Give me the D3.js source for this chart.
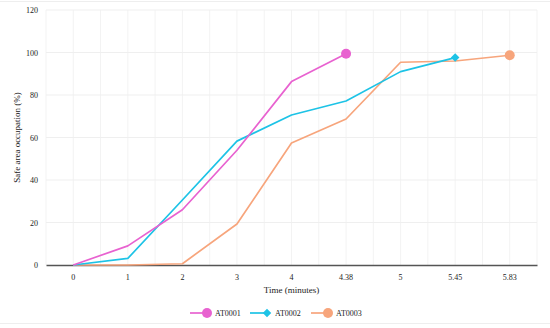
<!DOCTYPE html>
<html><head><meta charset="utf-8">
<script src="https://cdn.jsdelivr.net/npm/d3@7"></script>
<style>body{margin:0;background:#fff}svg{display:block}text{font-family:"Liberation Serif","DejaVu Serif",serif;fill:#222}</style>
</head><body><svg id="c" width="550" height="328"></svg>
<script>
const categories = ["0","1","2","3","4","4.38","5","5.45","5.83"];
const seriesNames = ["AT0001","AT0002","AT0003"];
const at0001 = [0, 9, 26, 54, 86.3, 99.4];
const at0002 = [0, 3.1, 30.6, 58.3, 70.6, 77.2, 91, 97.6];
const at0003 = [0, 0, 0.6, 19.3, 57.4, 68.7, 95.4, 96, 98.7];
const yTicks = [0, 20, 40, 60, 80, 100, 120];
const colors = ["#e862d0", "#1dc3e6", "#f7a57c"];
const markers = ["circle", "diamond", "circle"];

const svg = d3.select("#c");
const x = d3.scaleBand().domain(categories).range([46, 537]);
const y = d3.scaleLinear().domain([0, 120]).range([265, 10]);
const cx = c => x(c) + x.bandwidth()/2;

// frame lines
svg.append("line").attr("x1",0).attr("x2",550).attr("y1",1.5).attr("y2",1.5).attr("stroke","#eee");
svg.append("line").attr("x1",0).attr("x2",550).attr("y1",323.5).attr("y2",323.5).attr("stroke","#eee");

// vertical grid (band edges and centers)
const vx = [];
categories.forEach(c => { vx.push(x(c)); vx.push(cx(c)); });
vx.push(x.range()[1]);
svg.append("g").selectAll("line").data(vx).join("line")
  .attr("x1", d=>d).attr("x2", d=>d).attr("y1", y(120)).attr("y2", y(0))
  .attr("stroke", "#f3f3f3").attr("stroke-width", 1);
// horizontal grid
svg.append("g").selectAll("line").data(yTicks.filter(t=>t>0)).join("line")
  .attr("x1", 46).attr("x2", 537).attr("y1", d=>y(d)).attr("y2", d=>y(d))
  .attr("stroke", "#efefef").attr("stroke-width", 1);

// y axis labels
const ya = svg.append("g").attr("transform","translate(46,0)")
  .call(d3.axisLeft(y).tickValues(yTicks).tickSize(0).tickPadding(8));
ya.select(".domain").remove();
ya.selectAll("text").style("font-family","Liberation Serif, serif").style("font-size","8px").attr("fill","#222");

// x axis
const xa = svg.append("g").attr("transform","translate(0,265)")
  .call(d3.axisBottom(x).tickSize(0).tickPadding(9));
xa.select(".domain").attr("stroke","#555").attr("stroke-width",1.6);
xa.selectAll("text").style("font-family","Liberation Serif, serif").style("font-size","8px").attr("fill","#222");

// titles
svg.append("text").attr("x", 291.5).attr("y", 293).attr("text-anchor","middle")
  .style("font-size","9px").text("Time (minutes)");
svg.append("text").attr("transform","translate(20,137.5) rotate(-90)").attr("text-anchor","middle")
  .style("font-size","9px").text("Safe area occupation (%)");

// series
const data = [at0001, at0002, at0003];
const line = d3.line().x((d,i)=>cx(categories[i])).y(d=>y(d));
function marker(g, type, color, px, py, r) {
  if (type === "circle") g.append("circle").attr("cx",px).attr("cy",py).attr("r",r).attr("fill",color);
  else g.append("path").attr("d", d3.symbol(d3.symbolDiamond2, r*r*2.2)()).attr("transform",`translate(${px},${py}) rotate(0)`).attr("fill",color);
}
const order = [2,1,0];
order.forEach(k => {
  const vals = data[k];
  svg.append("path").datum(vals).attr("d", line).attr("fill","none")
    .attr("stroke", colors[k]).attr("stroke-width", 1.7).attr("stroke-linejoin","round");
  const last = vals.length - 1;
  marker(svg, markers[k], colors[k], cx(categories[last]), y(vals[last]), markers[k]==="circle"?5:4.6);
});

// legend
const legX = [190, 250, 311];
seriesNames.forEach((n,k) => {
  const g = svg.append("g");
  g.append("line").attr("x1", legX[k]).attr("x2", legX[k]+18).attr("y1", 313).attr("y2", 313)
    .attr("stroke", colors[k]).attr("stroke-width", 1.7);
  marker(g, markers[k], colors[k], legX[k]+17, 313, markers[k]==="circle"?5:4.6);
  g.append("text").attr("x", legX[k]+25).attr("y", 316).style("font-size","8px").text(n);
});
</script></body></html>
